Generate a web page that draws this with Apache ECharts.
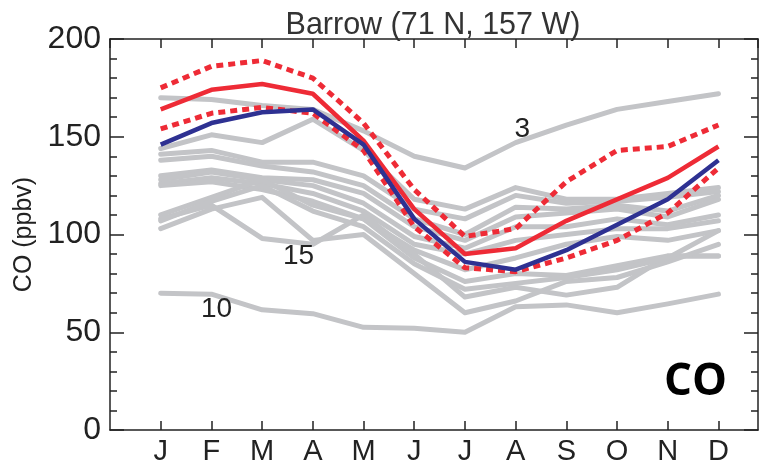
<!DOCTYPE html>
<html>
<head>
<meta charset="utf-8">
<script src="https://cdn.jsdelivr.net/npm/echarts@6/dist/echarts.min.js"></script>
<style>
html,body{margin:0;padding:0;background:#fff;}
#chart{width:767px;height:466px;}
</style>
</head>
<body>
<div id="chart"></div>
<script>
// ---- data ----
const months = ['J','F','M','A','M','J','J','A','S','O','N','D'];
const yTicks = [0, 50, 100, 150, 200];

// gray model / site lines
const gray01 = [170,169,166,164,153,140,134,147,156,164,168,172];
const gray02 = [144,151,147,159,143,118,113,124,118,118,121,124];
const gray03 = [141,143,137,137,130,113,108,120,116,117,119,122];
const gray04 = [138,140,135,132,125,108,100,114,113,115,112,120];
const gray05 = [130,133,129,128,121,104,97,109,111,113,109,118];
const gray06 = [128,132,128,125,116,99,93,104,104,108,105,110];
const gray07 = [126,129,126,121,112,95,90,97,100,103,103,107];
const gray08 = [125,127,123,117,108,92,82,88,95,99,97,102];
const gray09 = [110,119,128,115,108,88,76,80,79,84,89,89];
const gray10 = [108,115,98,95,110,90,68,73,69,73,89,89];
const gray11 = [103,113,119,97,100,80,60,66,76,78,86,95];
const gray12 = [107,117,125,112,104,85,72,75,78,82,88,102];
const gray13 = [70,69.5,61.5,59.5,52.5,52,50,63,64,60,64.5,69.5];

// observations
const redUpper = [175,186,189,180,157,123,99,103,127,143,145,156];
const redMean  = [164,174,177,172,148,113,90,93,107,118,129,145];
const redLower = [154,162,165,162,143,104,83,81,88,97,111,134];
const blueModel = [146,157,162.5,164,146,108,86,82,92,105,118,138];

// annotation labels: [text, monthPos, value]
const annotations = [['3', 8.13, 154], ['15', 3.72, 89], ['10', 2.1, 61.5]];

const grays = [gray01,gray02,gray03,gray04,gray05,gray06,gray07,gray08,gray09,gray10,gray11,gray12,gray13];

const toXY = arr => arr.map((v,i)=>[i+1, v]);
const FONT = '"Liberation Sans", Arial, sans-serif';

const series = [];
grays.forEach((g,k)=>{
  series.push({type:'line', data: toXY(g), showSymbol:false, silent:true,
    lineStyle:{color:'#c3c4c7', width:5, cap:'round', join:'round'}, z:2});
});
series.push({type:'line', data: toXY(redUpper), showSymbol:false,
  lineStyle:{color:'#ee2b36', width:5, type:[7,5]}, z:3});
series.push({type:'line', data: toXY(redLower), showSymbol:false,
  lineStyle:{color:'#ee2b36', width:5, type:[7,5]}, z:3});
series.push({type:'line', data: toXY(redMean), showSymbol:false,
  lineStyle:{color:'#ee2b36', width:4.5}, z:4});
series.push({type:'line', data: toXY(blueModel), showSymbol:false,
  lineStyle:{color:'#2e3192', width:4.5}, z:5});

const XMAX = 12.78;
const chart = echarts.init(document.getElementById('chart'), null, {renderer:'canvas'});
const ls = {color:'#222', width:1.5};
const xBase = {type:'value', min:0, max:XMAX, interval:1, splitLine:{show:false}};
const yBase = {type:'value', min:yTicks[0], max:yTicks[yTicks.length-1], interval:50,
  splitLine:{show:false}, minorSplitLine:{show:false}};
const option = {
  animation:false,
  backgroundColor:'#fff',
  title:{text:'Barrow (71 N, 157 W)', left:428, top:5, textAlign:'center',
    textStyle:{fontFamily:FONT, fontSize:30.5, fontWeight:'normal', color:'#333'}},
  grid:{left:110, right:9, top:39, bottom:32, show:false},
  xAxis:[
    Object.assign({}, xBase, {position:'bottom',
      axisLine:{show:true, onZero:false, lineStyle:ls},
      axisTick:{show:true, inside:true, length:9, lineStyle:ls},
      axisLabel:{showMaxLabel:false, showMinLabel:false, margin:7, fontFamily:FONT, fontSize:29, color:'#222',
        formatter:v=> (Number.isInteger(v) && v>=1 && v<=12) ? months[v-1] : ''}}),
    Object.assign({}, xBase, {position:'top',
      axisLine:{show:true, onZero:false, lineStyle:ls},
      axisTick:{show:true, inside:true, length:9, lineStyle:ls}, axisLabel:{show:false}})
  ],
  yAxis:[
    Object.assign({}, yBase, {position:'left',
      name:'CO (ppbv)', nameLocation:'middle', nameGap:67, nameRotate:90,
      nameTextStyle:{fontFamily:FONT, fontSize:25, color:'#222'},
      axisLine:{show:true, onZero:false, lineStyle:ls},
      axisTick:{show:true, inside:true, length:14, lineStyle:ls},
      minorTick:{show:true, splitNumber:5, length:7, lineStyle:ls},
      axisLabel:{margin:9, fontFamily:FONT, fontSize:32, color:'#222'}}),
    Object.assign({}, yBase, {position:'right',
      axisLine:{show:true, onZero:false, lineStyle:ls},
      axisTick:{show:true, inside:true, length:14, lineStyle:ls},
      minorTick:{show:true, splitNumber:5, length:7, lineStyle:ls},
      axisLabel:{show:false}})
  ],
  series: series
};
chart.setOption(option);

const graphics = annotations.map(a=>{
  const p = chart.convertToPixel({xAxisIndex:0, yAxisIndex:0}, [a[1], a[2]]);
  return {type:'text', x:p[0], y:p[1], z:10,
    style:{text:a[0], fontFamily:FONT, fontSize:28, fill:'#222', align:'center', verticalAlign:'middle'}};
});
graphics.push({type:'text', right:40, bottom:62, z:10,
  style:{text:'CO', fontFamily:'"Open Sans", sans-serif', fontWeight:'bold', fontSize:44, fill:'#000'}});
chart.setOption({graphic: graphics});
</script>
</body>
</html>
